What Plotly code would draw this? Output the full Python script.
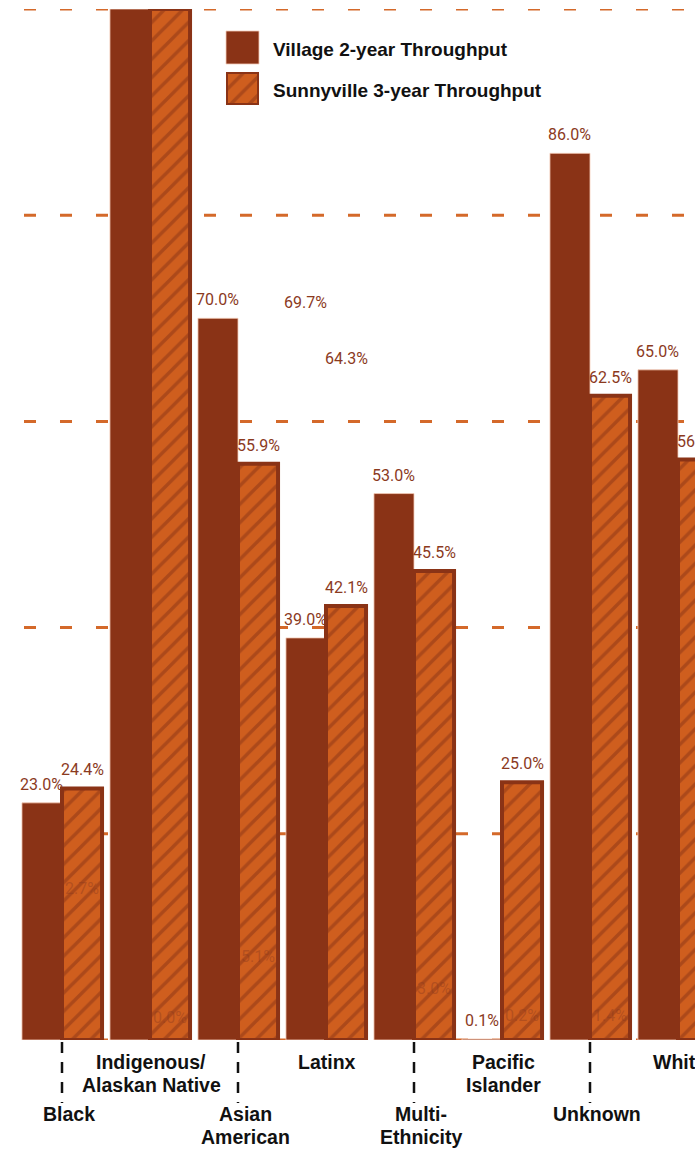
import plotly.graph_objects as go

# Throughput by group
categories = ["Black", "Indigenous/<br>Alaskan Native", "Asian<br>American", "Latinx",
              "Multi-<br>Ethnicity", "Pacific<br>Islander", "Unknown", "White"]
village = [23.0, 100.0, 70.0, 39.0, 53.0, 0.1, 86.0, 65.0]
sunnyville = [24.4, 100.0, 55.9, 42.1, 45.5, 25.0, 62.5, 56.3]

# extra value labels that float in the Latinx group
latinx_extra = [69.7, 64.3]

# faint labels sitting inside the Sunnyville bars (text, height in %)
faint_text = ["2.7%", "0.0%", "5.1%", "", "3.0%", "0.2%", "1.4%", ""]
faint_pos = [14.7, 2.2, 8.1, None, 5.0, 2.4, 2.4, None]

Y_MAX = 100
Y_STEP = 20

VILLAGE = "#8A3316"
ORANGE = "#CF5E1E"
GRID = "#D4692A"
LABEL = "#8B3A1E"
INK = "#111111"
NUM_FONT = "Roboto, Liberation Sans, sans-serif"
CAT_FONT = "Liberation Sans, Arial, sans-serif"
NUM_SIZE = 16

W, H = 695, 1152
ML, MT, MB = 18, 9, 112
plot_w = W - ML
plot_h = H - MT - MB
unit_px = 88.0                      # pixels per category
x_lo = -0.5
x_hi = x_lo + plot_w / unit_px
BARGAP = 0.09
half_bar = (1 - BARGAP) / 4         # offset of each bar centre from the group centre
half_bar_px = half_bar * unit_px

xs = list(range(len(categories)))

PATTERN = dict(shape="/", fgcolor=VILLAGE, bgcolor=ORANGE, size=13, solidity=0.27)

fig = go.Figure()

fig.add_trace(go.Bar(
    x=xs, y=village, name="Village 2-year Throughput",
    marker=dict(color=VILLAGE, line=dict(color="rgba(245,205,185,0.8)", width=1)),
    showlegend=False, hoverinfo="skip",
))
fig.add_trace(go.Bar(
    x=xs, y=sunnyville, name="Sunnyville 3-year Throughput",
    marker=dict(color=ORANGE, line=dict(color=VILLAGE, width=4), pattern=PATTERN),
    showlegend=False, hoverinfo="skip",
))


def px_to_paper_x(px):
    return (px - ML) / plot_w


def px_to_paper_y(py):
    return 1 - (py - MT) / plot_h


# legend swatch with the pattern, drawn as a bar on its own tiny axes
fig.add_trace(go.Bar(
    x=[0], y=[1], width=[1], xaxis="x2", yaxis="y2", cliponaxis=False,
    marker=dict(color=ORANGE, line=dict(color=VILLAGE, width=4), pattern=PATTERN),
    showlegend=False, hoverinfo="skip",
))

shapes = []
annotations = []

# dashed horizontal grid, including the baseline and the top edge
for g in range(0, Y_MAX + 1, Y_STEP):
    shapes.append(dict(type="line", xref="paper", yref="y", x0=0, x1=1, y0=g, y1=g,
                       layer="below",
                       line=dict(color=GRID, width=3, dash="0px,6px,12px,18px")))

# value labels above each bar (bars running past the top carry none)
for series, side in ((village, -1), (sunnyville, 1)):
    for i, v in enumerate(series):
        if v >= Y_MAX:
            continue
        annotations.append(dict(xref="x", yref="y", x=i, y=v, xshift=side * half_bar_px,
                                yshift=7, text=f"{v:.1f}%", showarrow=False,
                                xanchor="center", yanchor="bottom",
                                font=dict(family=NUM_FONT, size=NUM_SIZE, color=LABEL)))

# faint labels
for i, (t, p) in enumerate(zip(faint_text, faint_pos)):
    if t and p is not None:
        annotations.append(dict(xref="x", yref="y", x=i, y=p, xshift=half_bar_px, text=t,
                                showarrow=False, xanchor="center", yanchor="middle",
                                font=dict(family=NUM_FONT, size=NUM_SIZE,
                                          color="rgba(139,58,30,0.42)")))

# floating Latinx labels
li = categories.index("Latinx")
for k, v in enumerate(latinx_extra):
    annotations.append(dict(xref="x", yref="y", x=li, y=v, xshift=(2 * k - 1) * half_bar_px,
                            text=f"{v:.1f}%", showarrow=False, xanchor="center",
                            yanchor="bottom", yshift=7,
                            font=dict(family=NUM_FONT, size=NUM_SIZE, color=LABEL)))

# legend swatch for the solid series
shapes.append(dict(type="rect", xref="paper", yref="paper",
                   x0=px_to_paper_x(226), x1=px_to_paper_x(259),
                   y0=px_to_paper_y(64), y1=px_to_paper_y(31),
                   fillcolor=VILLAGE, line=dict(color="rgba(245,205,185,0.8)", width=1)))

legend_names = ["Village 2-year Throughput", "Sunnyville 3-year Throughput"]
for name, cy in zip(legend_names, [50, 91]):
    annotations.append(dict(xref="paper", yref="paper", x=px_to_paper_x(271),
                            y=px_to_paper_y(cy), xanchor="left", yanchor="middle",
                            text=name, showarrow=False,
                            font=dict(family=CAT_FONT, size=19, color=INK, weight="bold")))

# category labels, alternating low / high, with dashed leaders for the low ones
for i, cat in enumerate(categories):
    lines = cat.split("<br>")
    low = i % 2 == 0
    first = 74 if low else 22
    for k, line in enumerate(lines):
        annotations.append(dict(xref="x", yref="paper", x=i, y=0,
                                xanchor="center", yanchor="middle",
                                yshift=-(first + 23 * k), xshift=7 if low else 1,
                                text=line, showarrow=False,
                                font=dict(family=CAT_FONT, size=19.5, color=INK, weight="bold")))
    if low:
        shapes.append(dict(type="line", xref="x", yref="paper", x0=i, x1=i,
                           ysizemode="pixel", yanchor=0, y0=-2, y1=-63,
                           line=dict(color=INK, width=2.5, dash="11px,9px")))

fig.update_layout(
    width=W, height=H, autosize=False,
    margin=dict(l=ML, r=0, t=MT, b=MB, pad=0),
    paper_bgcolor="white", plot_bgcolor="white",
    barmode="group", bargap=BARGAP, bargroupgap=0,
    showlegend=False,
    xaxis=dict(range=[x_lo, x_hi], showticklabels=False, showgrid=False,
               zeroline=False, showline=False, ticks="", fixedrange=True),
    yaxis=dict(range=[0, Y_MAX], showticklabels=False, showgrid=False,
               zeroline=False, showline=False, ticks="", fixedrange=True),
    xaxis2=dict(domain=[px_to_paper_x(226), px_to_paper_x(259)], anchor="y2",
                range=[-0.5, 0.5], visible=False, fixedrange=True),
    yaxis2=dict(domain=[px_to_paper_y(105), px_to_paper_y(72)], anchor="x2",
                range=[0, 1], visible=False, fixedrange=True),
    shapes=shapes,
    annotations=annotations,
)

fig.write_html("out.html", config={"displayModeBar": False})
